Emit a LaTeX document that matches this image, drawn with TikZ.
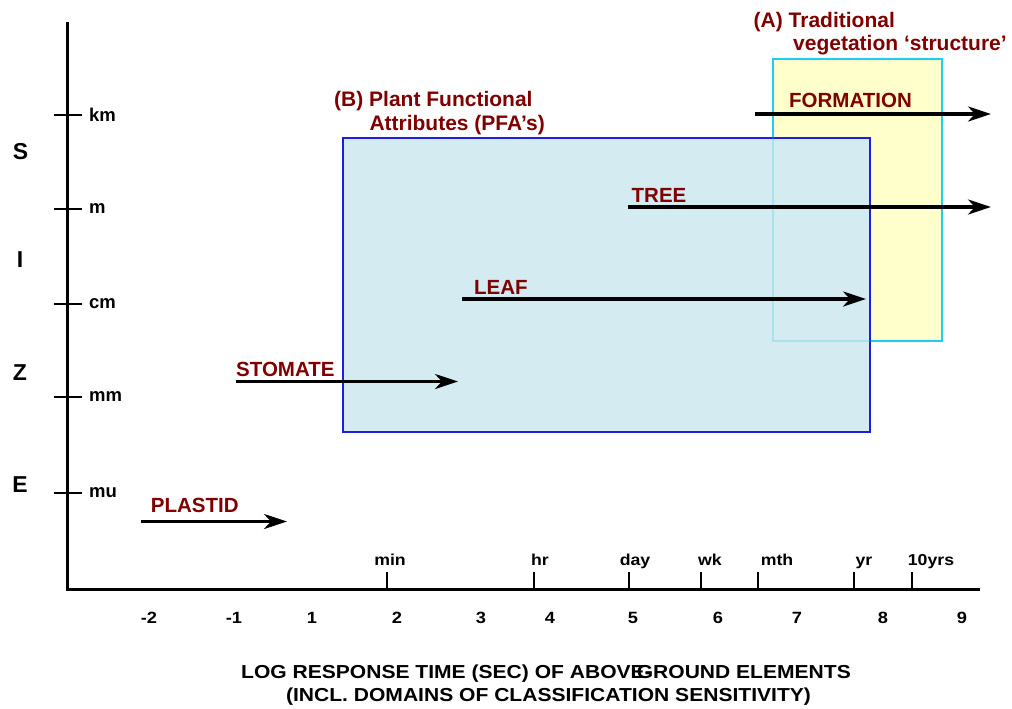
\documentclass[tikz,border=0pt]{standalone}
\usepackage{fontspec}
\setmainfont{Liberation Sans}
\newfontfamily\widefont[FakeStretch=1.12]{Liberation Sans}
\usetikzlibrary{arrows.meta}
\definecolor{labred}{RGB}{128,0,0}
\definecolor{pfafill}{RGB}{211,235,241}
\definecolor{pfaline}{RGB}{30,30,225}
\definecolor{strfill}{RGB}{255,255,204}
\definecolor{strline}{RGB}{30,205,240}

\begin{document}
\begin{tikzpicture}[x=1pt,y=-1pt,
    axis/.style={line width=3pt},
    tck/.style={line width=1.2pt},
    flow/.style={line width=3.2pt,-{Stealth[length=23pt,width=15pt,inset=7pt]}},
    elem/.style={text=labred,font=\fontsize{20.5}{24}\selectfont\bfseries,inner sep=0pt,anchor=west},
    head/.style={text=labred,font=\fontsize{21}{24}\selectfont\bfseries,inner sep=0pt,anchor=base west},
    ylab/.style={font=\fontsize{18.5}{20}\selectfont\bfseries,inner sep=0pt,anchor=west},
    xlab/.style={font=\widefont\fontsize{15.8}{18}\selectfont\bfseries,inner sep=0pt,anchor=base},
    xnum/.style={font=\widefont\fontsize{16.3}{18}\selectfont\bfseries,inner sep=0pt,anchor=base},
    yletter/.style={font=\fontsize{23}{25}\selectfont\bfseries,inner sep=0pt},
    xtitle/.style={font=\widefont\fontsize{18.8}{22}\selectfont\bfseries,inner sep=0pt,anchor=base}]
\useasboundingbox (0,0) rectangle (1012,709);

% boxes
\filldraw[fill=strfill,draw=strline,line width=2.5pt] (773,59) rectangle (942,341);
\filldraw[fill=pfafill,draw=pfaline,line width=1.5pt] (343,138) rectangle (870,432);
\draw[strline,draw opacity=0.25,line width=2.5pt] (773,59) rectangle (942,341);

\node[head] (hdA1) at (753.5,27.3) {(A) Traditional};
\node[head] (hdA2) at (793,50.5) {vegetation ‘structure’};
\node[head] (hdB1) at (334,106.7) {(B) Plant Functional};
\node[head] (hdB2) at (369.3,130) {Attributes (PFA’s)};

% axes
\coordinate (ytop) at (67,22);
\coordinate (orig) at (67,589);
\coordinate (xend) at (980,589);
\draw[axis] (ytop) -- (orig) -- (xend);

\foreach \y/\u in {115/km,209/m,304/cm,397/mm,493/mu}{
    \draw[tck] (54,\y) -- (82,\y);
    \node[ylab] (y-\u) at (89,\y) {\u};
}
\foreach \x/\lx/\t in {387/390/min,534/540/hr,629/635/day,701/710/wk,758/777/mth,854/864/yr,912/931/10yrs}{
    \draw[tck] (\x,572) -- (\x,589);
    \node[xlab] (x-\t) at (\lx,565) {\t};
}
\foreach \x/\n in {149/-2,234/-1,312/1,397/2,481/3,550/4,633/5,718/6,797/7,883/8,962/9}
    \node[xnum] (n\n) at (\x,623.3) {\n};

\node[yletter] (lS) at (20.5,152) {S};
\node[yletter] (lI) at (20,260) {I};
\node[yletter] (lZ) at (20,373) {Z};
\node[yletter] (lE) at (20,485) {E};

\node[xtitle] (xt1) at (546,678.3) {LOG RESPONSE TIME (SEC) OF ABOVE-\kern-15pt GROUND ELEMENTS};
\node[xtitle] (xt2) at (548.5,701.7) {(INCL. DOMAINS OF CLASSIFICATION SENSITIVITY)};

% elements
\coordinate (form-s) at (755,114);  \coordinate (form-e) at (991,114);
\coordinate (tree-s) at (628,207);  \coordinate (tree-e) at (991,207);
\coordinate (leaf-s) at (462,299);  \coordinate (leaf-e) at (866,299);
\coordinate (stom-s) at (236,381.5);\coordinate (stom-e) at (458,381.5);
\coordinate (plas-s) at (141,521.5);\coordinate (plas-e) at (287,521.5);
\draw[flow] (form-s) -- (form-e);
\draw[flow] (tree-s) -- (tree-e);
\draw[flow] (leaf-s) -- (leaf-e);
\draw[flow] (stom-s) -- (stom-e);
\draw[flow] (plas-s) -- (plas-e);

\node[elem] (formation) at (789,100) {FORMATION};
\node[elem] (tree) at (631.5,195.7) {TREE};
\node[elem] (leaf) at (474,287.3) {LEAF};
\node[elem] (stomate) at (236,369) {STOMATE};
\node[elem] (plastid) at (150.7,505.7) {PLASTID};

\end{tikzpicture}
\end{document}
